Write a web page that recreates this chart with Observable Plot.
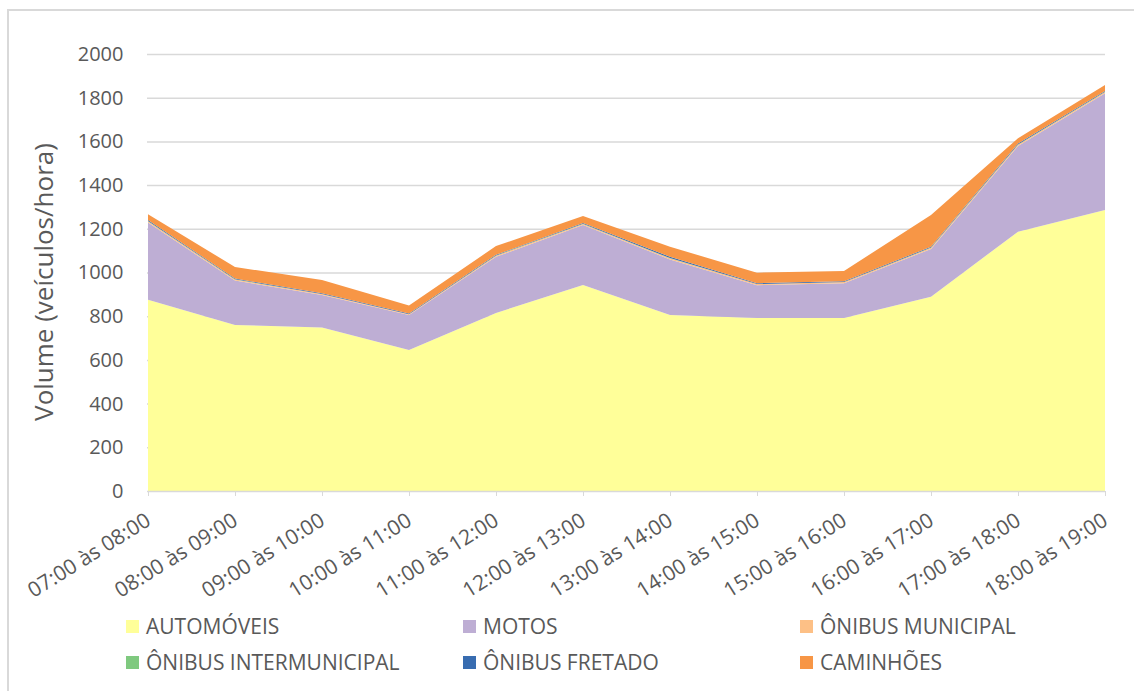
<!DOCTYPE html>
<html>
<head>
<meta charset="utf-8">
<script src="https://cdn.jsdelivr.net/npm/d3@7"></script>
<script src="https://cdn.jsdelivr.net/npm/@observablehq/plot@0.6"></script>
<style>
  body { margin: 0; background: #fff; font-family: "Open Sans", sans-serif; }
  #wrap { position: relative; width: 1134px; height: 691px; overflow: hidden; background: #fff; }
  #frame { position: absolute; left: 7px; top: 9px; right: -10px; bottom: -10px;
           border-left: 2px solid #d9d9d9; border-top: 2px solid #d9d9d9; }
  #chart { position: absolute; left: 0; top: 0; }
  #chart g[aria-label="x-axis tick label"] { font-size: 21px; }
  #chart g[aria-label="y-axis tick label"] { font-size: 20px; }
  .leg { position: absolute; display: flex; align-items: center; font-size: 21px;
         color: #595959; white-space: nowrap; line-height: 1; }
  .sw { width: 13px; height: 13px; margin-right: 7px; flex: none; }
</style>
</head>
<body>
<div id="wrap">
  <div id="frame"></div>
  <div id="chart"></div>
  <div id="legend"></div>
</div>
<script>
const categories = [
  "07:00 às 08:00", "08:00 às 09:00", "09:00 às 10:00", "10:00 às 11:00",
  "11:00 às 12:00", "12:00 às 13:00", "13:00 às 14:00", "14:00 às 15:00",
  "15:00 às 16:00", "16:00 às 17:00", "17:00 às 18:00", "18:00 às 19:00"
];
const seriesNames = ["AUTOMÓVEIS", "MOTOS", "ÔNIBUS MUNICIPAL", "ÔNIBUS INTERMUNICIPAL", "ÔNIBUS FRETADO", "CAMINHÕES"];
const seriesColors = ["#ffff99", "#beaed4", "#fdc086", "#7fc97f", "#386cb0", "#f79646"];

const automoveis     = [875, 760, 748, 645, 815, 943, 806, 792, 792, 889, 1187, 1286];
const motos          = [354, 203, 149, 160, 257, 274, 254, 150, 159, 219, 392, 534];
const onibusMunicipal = [6, 5, 5, 4, 5, 5, 5, 5, 5, 5, 6, 6];
const onibusIntermunicipal = [1, 1, 0, 0, 1, 1, 1, 0, 0, 1, 1, 1];
const onibusFretado  = [4, 3, 3, 3, 3, 3, 6, 4, 4, 4, 4, 4];
const caminhoes      = [27, 53, 61, 37, 40, 33, 46, 48, 47, 145, 24, 27];

const yTicks = [0, 200, 400, 600, 800, 1000, 1200, 1400, 1600, 1800, 2000];
const yLabel = "Volume (veículos/hora)";

const seriesValues = [automoveis, motos, onibusMunicipal, onibusIntermunicipal, onibusFretado, caminhoes];
const rows = [];
seriesNames.forEach((s, si) => {
  categories.forEach((c, i) => rows.push({category: c, series: s, value: seriesValues[si][i]}));
});

const chart = Plot.plot({
  width: 1134,
  height: 600,
  marginLeft: 147,
  marginRight: 29,
  marginTop: 54,
  marginBottom: 109,
  style: {fontFamily: "'Open Sans', sans-serif", fontSize: "19px", color: "#595959", background: "transparent", overflow: "visible"},
  x: {type: "point", domain: categories, padding: 0},
  y: {domain: [0, 2000]},
  color: {domain: seriesNames, range: seriesColors},
  marks: [
    Plot.gridY(yTicks.filter(d => d > 0), {stroke: "#d9d9d9", strokeOpacity: 1, strokeWidth: 1.5}),
    Plot.areaY(rows, {x: "category", y: "value", fill: "series", order: null}),
    Plot.ruleY([0], {stroke: "#d9d9d9", strokeWidth: 1.5}),
    Plot.axisY(yTicks, {tickSize: 0, tickPadding: 24, label: null, fill: "#595959", tickFormat: d => String(d)}),
    Plot.axisX({tickSize: 5, stroke: "#d9d9d9", tickRotate: -32, tickPadding: 22, label: null, fill: "#595959"}),
    Plot.text([yLabel], {frameAnchor: "left", textAnchor: "middle", rotate: -90, dx: -95, dy: 9, lineAnchor: "bottom", fontSize: 26, fill: "#595959"})
  ]
});
document.getElementById("chart").appendChild(chart);

// Legend (HTML, below the chart area)
const legendPos = [
  {left: 126, top: 627}, {left: 463, top: 627}, {left: 800, top: 627},
  {left: 126, top: 663}, {left: 463, top: 663}, {left: 800, top: 663}
];
const legend = document.getElementById("legend");
seriesNames.forEach((s, i) => {
  const item = document.createElement("div");
  item.className = "leg";
  item.style.left = legendPos[i].left + "px";
  item.style.top = (legendPos[i].top - 13) + "px";
  item.style.height = "24px";
  const sw = document.createElement("span");
  sw.className = "sw";
  sw.style.background = seriesColors[i];
  const tx = document.createElement("span");
  tx.textContent = s;
  item.appendChild(sw);
  item.appendChild(tx);
  legend.appendChild(item);
});
</script>
</body>
</html>
